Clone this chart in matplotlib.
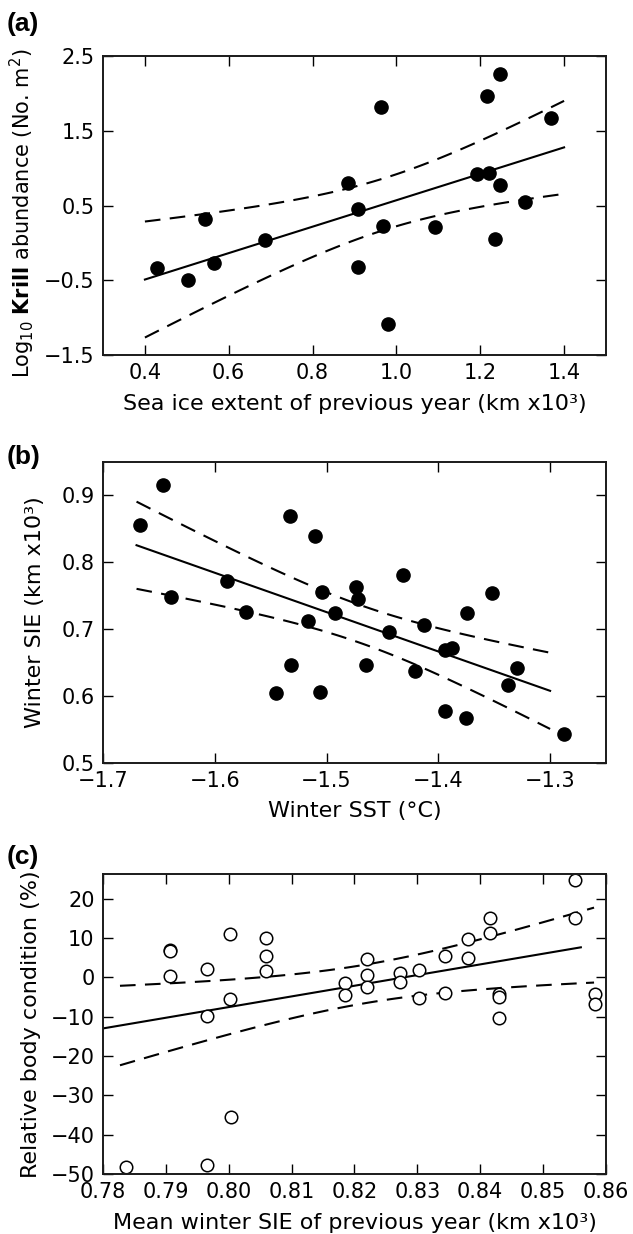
import numpy as np
import matplotlib
matplotlib.use("Agg")
import matplotlib.pyplot as plt

plt.rcParams['font.family'] = ['DejaVu Sans']
plt.rcParams['mathtext.fontset'] = 'dejavusans'

# ---------------- data ----------------
# (a) Sea ice extent of previous year vs log10 krill abundance
a_x = [0.429, 0.503, 0.543, 0.566, 0.687, 0.884, 0.909, 0.909, 0.963, 0.967,
       0.979, 1.093, 1.192, 1.217, 1.222, 1.247, 1.247, 1.235, 1.307, 1.368]
a_y = [-0.334, -0.50, 0.318, -0.272, 0.043, 0.80, 0.451, -0.325, 1.817, 0.229,
       -1.083, 0.212, 0.917, 1.959, 0.935, 2.256, 0.77, 0.057, 0.549, 1.666]

# (b) Winter SST vs winter SIE
b_x = [-1.667, -1.646, -1.639, -1.589, -1.572, -1.533, -1.532, -1.545, -1.517,
       -1.510, -1.506, -1.5045, -1.492, -1.474, -1.472, -1.465, -1.444, -1.432,
       -1.421, -1.413, -1.394, -1.394, -1.388, -1.375, -1.374, -1.352, -1.338,
       -1.330, -1.288]
b_y = [0.856, 0.916, 0.748, 0.772, 0.725, 0.870, 0.647, 0.605, 0.712,
       0.840, 0.606, 0.756, 0.724, 0.7625, 0.745, 0.646, 0.696, 0.781,
       0.637, 0.706, 0.578, 0.669, 0.672, 0.567, 0.724, 0.754, 0.616,
       0.642, 0.543]

# (c) Mean winter SIE of previous year vs relative body condition
c_x = [0.7837, 0.7907, 0.7907, 0.7907, 0.7966, 0.7966, 0.7965, 0.8002, 0.8002,
       0.8003, 0.8060, 0.8060, 0.8060, 0.8185, 0.8185, 0.8220, 0.8220, 0.8220,
       0.8273, 0.8273, 0.8303, 0.8303, 0.8344, 0.8344, 0.8380, 0.8380, 0.8416,
       0.8416, 0.8430, 0.8430, 0.8430, 0.8550, 0.8550, 0.8582, 0.8582]
c_y = [-48.2, 7.08, 6.6, 0.25, 2.2, -9.94, -47.6, 10.95, -5.48,
       -35.4, 10.1, 5.48, 1.6, -1.35, -4.55, 4.8, 0.5, -2.44,
       1.18, -1.1, 1.85, -5.22, 5.56, -3.88, 9.86, 4.9, 15.2,
       11.4, -4.2, -5.1, -10.3, 24.85, 15.0, -4.2, -6.7]

# ranges over which the fitted lines are drawn
a_fit_range = [0.4, 1.4]
a_ci_range = [0.4, 1.4]
b_fit_range = [-1.67, -1.30]
b_ci_range = [-1.67, -1.30]
c_fit_range = [0.775, 0.856]
c_ci_range = [0.7827, 0.8581]

a_xticks = [0.4, 0.6, 0.8, 1.0, 1.2, 1.4]
a_yticks = [-1.5, -0.5, 0.5, 1.5, 2.5]
b_xticks = [-1.7, -1.6, -1.5, -1.4, -1.3]
b_yticks = [0.5, 0.6, 0.7, 0.8, 0.9]
c_xticks = [0.78, 0.79, 0.80, 0.81, 0.82, 0.83, 0.84, 0.85, 0.86]
c_yticks = [-50, -40, -30, -20, -10, 0, 10, 20]

# two-sided 95% t quantiles by degrees of freedom
T95 = {18: 2.1009, 27: 2.0518, 32: 2.0369, 33: 2.0345}


def fit_and_ci(x, y, fit_range, ci_range):
    x = np.asarray(x, float)
    y = np.asarray(y, float)
    n = len(x)
    slope, intercept = np.polyfit(x, y, 1)
    resid = y - (slope * x + intercept)
    s = np.sqrt(np.sum(resid ** 2) / (n - 2))
    sxx = np.sum((x - x.mean()) ** 2)
    try:
        from scipy import stats
        t = stats.t.ppf(0.975, n - 2)
    except Exception:
        t = T95.get(n - 2, 2.04)
    xf = np.linspace(fit_range[0], fit_range[1], 100)
    yf = slope * xf + intercept
    xc = np.linspace(ci_range[0], ci_range[1], 100)
    yc = slope * xc + intercept
    half = t * s * np.sqrt(1.0 / n + (xc - x.mean()) ** 2 / sxx)
    return xf, yf, xc, yc - half, yc + half


W, H = 633, 1234
fig = plt.figure(figsize=(W / 100, H / 100), dpi=100)


def add_axes(top_px, bottom_px, left_px=103, right_px=606):
    return fig.add_axes([left_px / W, 1 - bottom_px / H,
                         (right_px - left_px) / W, (bottom_px - top_px) / H])


TICK_FS = 15
LABEL_FS = 16
dash = (0, (7.5, 4.5))


def style(ax):
    ax.tick_params(direction='in', length=7, width=1, top=True, right=True,
                   labelsize=TICK_FS, pad=6, colors='black')
    for sp in ax.spines.values():
        sp.set_linewidth(1.4)
        sp.set_color('#1a1a1a')


def panel_label(text, y_center_px):
    fig.text(7 / W, 1 - y_center_px / H, text, fontsize=19, fontweight='bold',
             family=['Liberation Sans', 'DejaVu Sans'], va='center', ha='left')


def draw_fit(ax, x, y, fit_range, ci_range):
    xf, yf, xc, lo, hi = fit_and_ci(x, y, fit_range, ci_range)
    ax.plot(xf, yf, color='black', lw=1.5)
    ax.plot(xc, lo, color='black', lw=1.5, linestyle=dash)
    ax.plot(xc, hi, color='black', lw=1.5, linestyle=dash)


# ---- (a) ----
ax = add_axes(56, 355)
draw_fit(ax, a_x, a_y, a_fit_range, a_ci_range)
ax.plot(a_x, a_y, 'o', color='black', ms=9.5, mec='black')
ax.set_xlim(0.3, 1.5)
ax.set_ylim(-1.5, 2.5)
ax.set_xticks(a_xticks)
ax.set_yticks(a_yticks)
ax.set_xticklabels([f"{v:.1f}" for v in a_xticks])
ax.set_yticklabels([f"{v:.1f}".replace('-', '\u2212') for v in a_yticks])
ax.set_xlabel('Sea ice extent of previous year (km x10\u00b3)', fontsize=LABEL_FS, labelpad=8)
ax.set_ylabel(r'Log$_{10}$ $\mathbf{Krill}$ abundance (No. m$^{2}$)', fontsize=15,
              labelpad=5, y=0.475)
style(ax)
panel_label('(a)', 24)

# ---- (b) ----
ax = add_axes(462, 763)
draw_fit(ax, b_x, b_y, b_fit_range, b_ci_range)
ax.plot(b_x, b_y, 'o', color='black', ms=9.5, mec='black')
ax.set_xlim(-1.7, -1.25)
ax.set_ylim(0.5, 0.95)
ax.set_xticks(b_xticks)
ax.set_yticks(b_yticks)
ax.set_xticklabels([f"{v:.1f}".replace('-', '\u2212') for v in b_xticks])
ax.set_yticklabels([f"{v:.1f}" for v in b_yticks])
ax.set_xlabel('Winter SST (\u00b0C)', fontsize=LABEL_FS, labelpad=7)
ax.set_ylabel('Winter SIE (km x10\u00b3)', fontsize=LABEL_FS, labelpad=12)
style(ax)
panel_label('(b)', 457)

# ---- (c) ----
ax = add_axes(874, 1174)
draw_fit(ax, c_x, c_y, c_fit_range, c_ci_range)
ax.plot(c_x, c_y, 'o', mfc='white', mec='black', mew=1.1, ms=9, clip_on=False)
ax.set_xlim(0.78, 0.86)
ax.set_ylim(-50, 26.3)
ax.set_xticks(c_xticks)
ax.set_yticks(c_yticks)
ax.set_xticklabels([f"{v:.2f}" for v in c_xticks])
ax.set_yticklabels([f"{v}".replace('-', '\u2212') for v in c_yticks])
ax.set_xlabel('Mean winter SIE of previous year (km x10\u00b3)', fontsize=LABEL_FS, labelpad=8)
ax.set_ylabel('Relative body condition (%)', fontsize=LABEL_FS, labelpad=7)
style(ax)
panel_label('(c)', 857)

fig.savefig('out.png', dpi=100)
